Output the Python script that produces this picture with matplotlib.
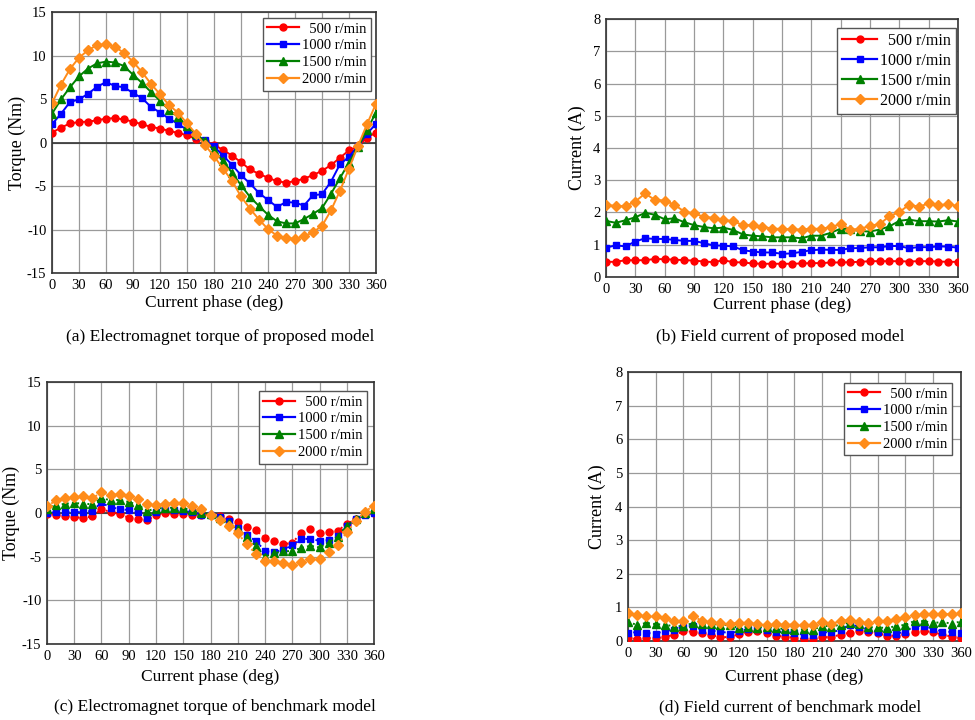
import matplotlib
matplotlib.use('Agg')
import matplotlib.pyplot as plt
import numpy as np
from matplotlib.lines import Line2D

plt.rcParams['font.family'] = 'Liberation Serif'
plt.rcParams['font.size'] = 10
plt.rcParams['axes.unicode_minus'] = False

phase = np.arange(0, 361, 10)
speeds = ['  500 r/min', '1000 r/min', '1500 r/min', '2000 r/min']
colors = ['#ff0000', '#0000ff', '#008000', '#ff8c1a']
markers = ['o', 's', '^', 'D']
msizes = [5, 5, 5.5, 5]

# (a) torque, proposed model
torque_prop_500 = [1.15, 1.7, 2.2, 2.35, 2.4, 2.55, 2.75, 2.8, 2.65, 2.4, 2.1, 1.8, 1.6, 1.35, 1.1, 0.85,
                   0.4, 0.15, -0.25, -0.85, -1.5, -2.25, -3.1, -3.6, -4.05, -4.45, -4.6, -4.45, -4.15,
                   -3.75, -3.25, -2.6, -1.75, -0.9, -0.45, 0.55, 1.15]
torque_prop_1000 = [2.1, 3.3, 4.65, 4.95, 5.6, 6.4, 6.95, 6.5, 6.35, 5.7, 5.1, 4.1, 3.45, 2.75, 2.15, 1.45,
                    0.8, 0.25, -0.45, -1.5, -2.55, -3.75, -4.7, -5.8, -6.6, -7.4, -6.85, -6.9, -7.25,
                    -6.05, -5.95, -4.5, -2.5, -1.65, -0.4, 1.0, 2.15]
torque_prop_1500 = [3.3, 4.95, 6.35, 7.6, 8.5, 9.1, 9.3, 9.2, 8.8, 7.8, 6.85, 5.8, 4.8, 3.75, 2.95, 1.85,
                    1.0, 0.15, -0.85, -2.15, -3.45, -4.9, -6.25, -7.3, -8.3, -9.05, -9.3, -9.3, -8.8,
                    -8.2, -7.55, -5.9, -4.1, -2.3, -0.55, 1.45, 3.45]
torque_prop_2000 = [4.5, 6.65, 8.45, 9.75, 10.6, 11.2, 11.3, 11.0, 10.3, 9.3, 8.1, 6.75, 5.55, 4.3, 3.45, 2.2,
                    1.0, -0.3, -1.55, -3.0, -4.4, -6.2, -7.6, -8.85, -9.95, -10.7, -11.0, -11.05, -10.8,
                    -10.3, -9.6, -7.8, -5.55, -3.0, -0.4, 2.1, 4.45]

# (b) field current, proposed model
current_prop_500 = [0.47, 0.47, 0.52, 0.52, 0.52, 0.56, 0.55, 0.54, 0.52, 0.51, 0.48, 0.46, 0.52, 0.46, 0.45,
                    0.42, 0.41, 0.41, 0.41, 0.41, 0.42, 0.43, 0.43, 0.45, 0.45, 0.46, 0.47, 0.49, 0.49,
                    0.49, 0.49, 0.48, 0.49, 0.49, 0.48, 0.47, 0.47]
current_prop_1000 = [0.91, 0.98, 0.95, 1.1, 1.2, 1.18, 1.18, 1.15, 1.12, 1.12, 1.05, 0.98, 0.97, 0.95, 0.83,
                     0.79, 0.76, 0.76, 0.72, 0.73, 0.78, 0.83, 0.85, 0.84, 0.84, 0.89, 0.9, 0.92, 0.92,
                     0.96, 0.96, 0.89, 0.93, 0.92, 0.95, 0.94, 0.91]
current_prop_1500 = [1.74, 1.68, 1.76, 1.85, 1.99, 1.93, 1.79, 1.82, 1.7, 1.61, 1.55, 1.51, 1.53, 1.46, 1.32,
                     1.28, 1.26, 1.23, 1.23, 1.23, 1.2, 1.28, 1.28, 1.37, 1.5, 1.48, 1.42, 1.41, 1.47,
                     1.57, 1.74, 1.78, 1.73, 1.73, 1.72, 1.76, 1.72]
current_prop_2000 = [2.24, 2.2, 2.2, 2.34, 2.59, 2.39, 2.37, 2.24, 2.03, 1.97, 1.87, 1.83, 1.77, 1.73, 1.61,
                     1.61, 1.56, 1.5, 1.49, 1.48, 1.47, 1.5, 1.49, 1.55, 1.64, 1.47, 1.49, 1.59, 1.64,
                     1.89, 2.01, 2.24, 2.18, 2.28, 2.22, 2.26, 2.2]

# (c) torque, benchmark model
torque_bench_500 = [-0.1, -0.2, -0.35, -0.5, -0.55, -0.4, 0.45, 0.1, -0.1, -0.55, -0.7, -0.85, -0.25, 0.0,
                    -0.1, -0.1, -0.2, -0.2, -0.25, -0.35, -0.7, -1.0, -1.6, -2.0, -2.85, -3.25, -3.6, -3.4,
                    -2.3, -1.8, -2.3, -2.15, -2.05, -1.25, -0.7, -0.1, 0.05]
torque_bench_1000 = [0.0, 0.1, 0.1, 0.1, 0.1, 0.25, 1.2, 0.6, 0.5, 0.3, 0.1, -0.6, 0.1, 0.4, 0.3, 0.2,
                     0.1, -0.2, -0.25, -0.45, -0.95, -1.7, -2.55, -3.2, -4.35, -4.5, -4.2, -3.7, -3.0,
                     -2.95, -3.2, -3.1, -2.65, -1.5, -0.65, -0.25, 0.0]
torque_bench_1500 = [0.5, 0.9, 1.05, 1.15, 1.05, 1.0, 1.7, 1.45, 1.5, 1.25, 0.95, 0.25, 0.5, 0.6, 0.6, 0.55,
                     0.3, 0.05, -0.15, -0.55, -1.2, -1.85, -2.75, -3.8, -5.0, -4.6, -4.4, -4.35, -4.0,
                     -3.75, -3.95, -3.4, -2.7, -1.45, -0.65, -0.05, 0.4]
torque_bench_2000 = [0.75, 1.45, 1.75, 1.85, 1.95, 1.7, 2.35, 2.05, 2.15, 1.95, 1.6, 1.0, 0.9, 1.05, 1.1,
                     1.1, 0.8, 0.4, -0.25, -0.75, -1.5, -2.35, -3.55, -4.7, -5.55, -5.55, -5.75, -6.0,
                     -5.6, -5.3, -5.25, -4.45, -3.7, -2.2, -0.9, 0.15, 0.85]

# (d) field current, benchmark model
current_bench_500 = [0.08, 0.06, 0.09, 0.08, 0.13, 0.18, 0.29, 0.28, 0.23, 0.18, 0.11, 0.12, 0.2, 0.28, 0.29,
                     0.24, 0.16, 0.13, 0.1, 0.05, 0.07, 0.11, 0.12, 0.19, 0.25, 0.29, 0.27, 0.23, 0.16,
                     0.16, 0.2, 0.26, 0.3, 0.26, 0.19, 0.13, 0.09]
current_bench_1000 = [0.25, 0.26, 0.24, 0.22, 0.3, 0.33, 0.43, 0.45, 0.33, 0.3, 0.29, 0.22, 0.3, 0.35, 0.37,
                      0.33, 0.28, 0.26, 0.25, 0.18, 0.19, 0.26, 0.26, 0.33, 0.49, 0.43, 0.33, 0.26, 0.27,
                      0.22, 0.28, 0.45, 0.45, 0.36, 0.28, 0.27, 0.25]
current_bench_1500 = [0.56, 0.48, 0.54, 0.5, 0.49, 0.43, 0.45, 0.53, 0.51, 0.5, 0.49, 0.47, 0.38, 0.43, 0.4,
                      0.42, 0.39, 0.35, 0.33, 0.35, 0.33, 0.46, 0.43, 0.49, 0.55, 0.51, 0.41, 0.41, 0.38,
                      0.45, 0.48, 0.6, 0.59, 0.54, 0.56, 0.52, 0.58]
current_bench_2000 = [0.82, 0.76, 0.74, 0.73, 0.68, 0.59, 0.61, 0.74, 0.6, 0.56, 0.53, 0.52, 0.54, 0.54, 0.52,
                      0.49, 0.51, 0.49, 0.49, 0.48, 0.48, 0.58, 0.52, 0.59, 0.63, 0.57, 0.54, 0.6, 0.6,
                      0.66, 0.72, 0.76, 0.79, 0.79, 0.81, 0.79, 0.82]

panels = [
    dict(rect=[0.0533, 0.6208, 0.3323, 0.3625], data=[torque_prop_500, torque_prop_1000, torque_prop_1500, torque_prop_2000],
         ylim=(-15, 15), ystep=5, ylabel='Torque (Nm)', ls='-', leg=(0.3805, 0.975), legfs=10.5,
         caption='(a) Electromagnet torque of proposed model', cap_xy=(0.226, 0.532), xl_y=0.579, yl_x=0.018),
    dict(rect=[0.6215, 0.6153, 0.3610, 0.3583], data=[current_prop_500, current_prop_1000, current_prop_1500, current_prop_2000],
         ylim=(0, 8), ystep=1, ylabel='Current (A)', ls='-', leg=(0.9805, 0.9611), legfs=11.5,
         caption='(b) Field current of proposed model', cap_xy=(0.80, 0.532), xl_y=0.576, yl_x=0.592),
    dict(rect=[0.0482, 0.1056, 0.3354, 0.3639], data=[torque_bench_500, torque_bench_1000, torque_bench_1500, torque_bench_2000],
         ylim=(-15, 15), ystep=5, ylabel='Torque (Nm)', ls=':', leg=(0.3764, 0.4569), legfs=10.5,
         caption='(c) Electromagnet torque of benchmark model', cap_xy=(0.22, 0.018), xl_y=0.06, yl_x=0.012),
    dict(rect=[0.6441, 0.1097, 0.3415, 0.3736], data=[current_bench_500, current_bench_1000, current_bench_1500, current_bench_2000],
         ylim=(0, 8), ystep=1, ylabel='Current (A)', ls=':', leg=(0.9764, 0.4681), legfs=10.5,
         caption='(d) Field current of benchmark model', cap_xy=(0.81, 0.018), xl_y=0.06, yl_x=0.613),
]

fig = plt.figure(figsize=(9.75, 7.2), dpi=100)

for p in panels:
    ax = fig.add_axes(p['rect'])
    for vals, c, m, ms in zip(p['data'], colors, markers, msizes):
        ax.plot(phase, vals, linestyle=p['ls'], color=c, marker=m, markersize=ms,
                linewidth=1.4, zorder=3)
    ax.set_xlim(0, 360)
    ax.set_ylim(*p['ylim'])
    ax.set_xticks(np.arange(0, 361, 30))
    ax.set_yticks(np.arange(p['ylim'][0], p['ylim'][1] + 0.1, p['ystep']))
    ax.grid(True, color='#9a9a9a', linewidth=0.9)
    ax.set_axisbelow(True)
    if p['ylim'][0] < 0:
        ax.axhline(0, color='#333333', linewidth=1.2, zorder=2)
    ax.tick_params(length=0, labelsize=10.5, pad=4)
    for s in ax.spines.values():
        s.set_color('#333333')
        s.set_linewidth(1.2)

    cx = p['rect'][0] + p['rect'][2] / 2
    fig.text(cx, p['xl_y'], 'Current phase (deg)', ha='center', va='center', fontsize=12.5)
    fig.text(p['yl_x'], p['rect'][1] + p['rect'][3] / 2, p['ylabel'], rotation=90,
             ha='center', va='center', fontsize=13)
    fig.text(p['cap_xy'][0], p['cap_xy'][1], p['caption'], ha='center', va='center', fontsize=12.5)

    handles = [Line2D([], [], color=c, marker=m, markersize=ms, linewidth=1.6)
               for c, m, ms in zip(colors, markers, msizes)]
    leg = ax.legend(handles, speeds, loc='upper right', bbox_to_anchor=p['leg'],
                    bbox_transform=fig.transFigure, borderaxespad=0, fancybox=False,
                    framealpha=1, edgecolor='#555555', fontsize=p['legfs'], handlelength=2.2,
                    handletextpad=0.2, labelspacing=0.25, borderpad=0.3)
    leg.get_frame().set_linewidth(1.0)

fig.savefig('out.png', dpi=100)
